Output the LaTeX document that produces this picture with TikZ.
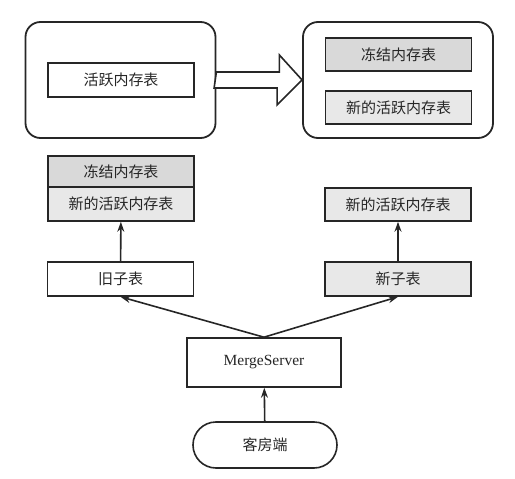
\documentclass[tikz,border=0pt]{standalone}
\usepackage{fontspec}
\setmainfont{Liberation Serif}
\newfontfamily\cjk{Noto Sans CJK SC}
\usetikzlibrary{arrows.meta}
\definecolor{ink}{HTML}{262626}
\definecolor{frz}{HTML}{D9D9D9}
\definecolor{act}{HTML}{E8E8E8}

\begin{document}
\begin{tikzpicture}[x=1pt,y=-1pt,
  every node/.style={text=ink,font=\cjk\fontsize{15}{16}\selectfont,inner sep=0pt},
  tbl/.style={draw=ink,line width=1.6pt,minimum width=146pt,minimum height=34pt},
  outer/.style={draw=ink,line width=1.8pt,rounded corners=15pt,minimum width=190pt,minimum height=116pt},
  up/.style={draw=ink,line width=1.6pt,-{Stealth[length=10pt,width=7pt]}}]
  \useasboundingbox (0,0) rectangle (515,479);
  % merging in memory
  \node[outer] (outerL) at (120.5,80) {};
  \node[outer] (outerR) at (398,80) {};
  \node[tbl] (activeL) at (121,80) {活跃内存表};
  \node[tbl,fill=frz,minimum height=33pt] (frozenR) at (398.5,54.5) {冻结内存表};
  \node[tbl,fill=act,minimum height=33pt] (newR)   at (398.5,107.5) {新的活跃内存表};
  \draw[ink,line width=1.6pt,fill=white] (outerL.east) ++(0,-8) -- ++(63,0) -- ++(0,-17)
    -- (outerR.west) -- ++(-25,25) -- ++(0,-17) -- ++(-63,0) -- cycle;
  % tablets
  \node[tbl,fill=frz,minimum height=31pt] (frozenL) at (121,171.5) {冻结内存表};
  \node[tbl,fill=act] (newL)  at (121,204) {新的活跃内存表};
  \node[tbl,fill=act,minimum height=33pt] (newR2) at (398,204.5) {新的活跃内存表};
  \node[tbl] (oldT) at (120.5,279) {旧子表};
  \node[tbl,fill=act] (newT) at (398,279) {新子表};
  \node[tbl,minimum width=154pt,minimum height=49pt,font=\fontsize{15.5}{17}\selectfont] (merge) at (264,362.5) {MergeServer};
  \node[tbl,minimum width=144pt,minimum height=46pt,rounded corners=23pt] (client) at (265,445) {客房端};
  % arrows
  \draw[up] (oldT) -- (newL);
  \draw[up] (newT) -- (newR2);
  \draw[up] (merge.north) -- (oldT.south);
  \draw[up] (merge.north) -- (newT.south);
  \draw[up] (client) -- (merge);
\end{tikzpicture}
\end{document}
